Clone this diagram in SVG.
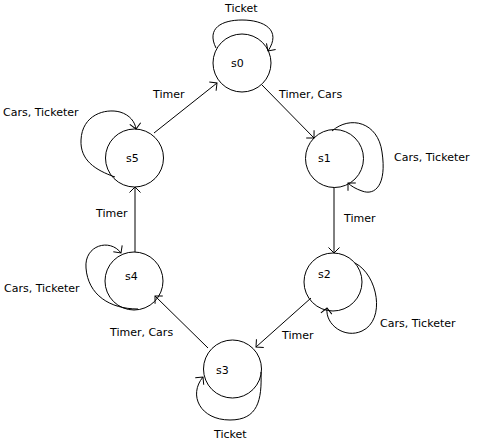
<svg xmlns="http://www.w3.org/2000/svg" width="478" height="444" viewBox="0 0 478 444">
<style>
.n{fill:#fff;stroke:#000;stroke-width:1}
.c{fill:none;stroke:#000;stroke-width:1;marker-end:url(#a)}
text{font-family:"DejaVu Sans","Verdana",sans-serif;font-size:11px;fill:#000}
</style>
<defs>
<marker id="a" markerUnits="userSpaceOnUse" markerWidth="14" markerHeight="14" viewBox="-7 -7 14 14" refX="0" refY="0" orient="auto" overflow="visible">
<path d="M -5.5 -5.5 L 0 0 L -5.5 5.5" fill="none" stroke="#000" stroke-width="1"/>
</marker>
</defs>
<rect width="478" height="444" fill="#fff"/>
<g id="nodes">
<g id="s0"><circle class="n" cx="242" cy="63" r="29"/><text x="231" y="67">s0</text></g>
<g id="s1"><circle class="n" cx="334.5" cy="158.5" r="29"/><text x="318" y="162">s1</text></g>
<g id="s2"><circle class="n" cx="333" cy="282" r="29"/><text x="318" y="278">s2</text></g>
<g id="s3"><circle class="n" cx="232.5" cy="369" r="29"/><text x="216" y="374">s3</text></g>
<g id="s4"><circle class="n" cx="134" cy="281" r="29"/><text x="125" y="280">s4</text></g>
<g id="s5"><circle class="n" cx="134.5" cy="158" r="29"/><text x="126" y="162">s5</text></g>
</g>
<g id="connectors">
<path class="c" d="M 154 133 L 217 83"/>
<path class="c" d="M 262 85 L 314 138"/>
<path class="c" d="M 334 187 L 334 253"/>
<path class="c" d="M 311 298 L 256 347"/>
<path class="c" d="M 208 348 L 155 296"/>
<path class="c" d="M 135 252 L 135 187"/>
<path class="c" d="M 216 48 C 206 28 222 20 242 20 C 264 20 282 30 268 51"/>
<path class="c" d="M 332 131 C 350 115 378 122 382 152 C 387 185 375 196 362 191 C 356 189 351 186 348 183"/>
<path class="c" d="M 355 263 C 378 275 386 320 362 331 C 345 339 325 325 327 308"/>
<path class="c" d="M 261 372 C 262 400 258 420 230 420 C 200 420 188 395 203 377"/>
<path class="c" d="M 138 309 C 110 309 88 295 86 268 C 84 245 110 238 121 253"/>
<path class="c" d="M 115 177 C 95 170 80 160 81 140 C 82 115 105 108 120 112 C 130 115 135 122 136 129"/>
</g>
<g id="labels">
<text x="225" y="12">Ticket</text>
<text x="153" y="98">Timer</text>
<text x="3" y="116">Cars, Ticketer</text>
<text x="279" y="98">Timer, Cars</text>
<text x="394" y="161">Cars, Ticketer</text>
<text x="344" y="222">Timer</text>
<text x="96" y="217">Timer</text>
<text x="4" y="292">Cars, Ticketer</text>
<text x="110" y="336">Timer, Cars</text>
<text x="380" y="327">Cars, Ticketer</text>
<text x="282" y="339">Timer</text>
<text x="214" y="438">Ticket</text>
</g>
</svg>
